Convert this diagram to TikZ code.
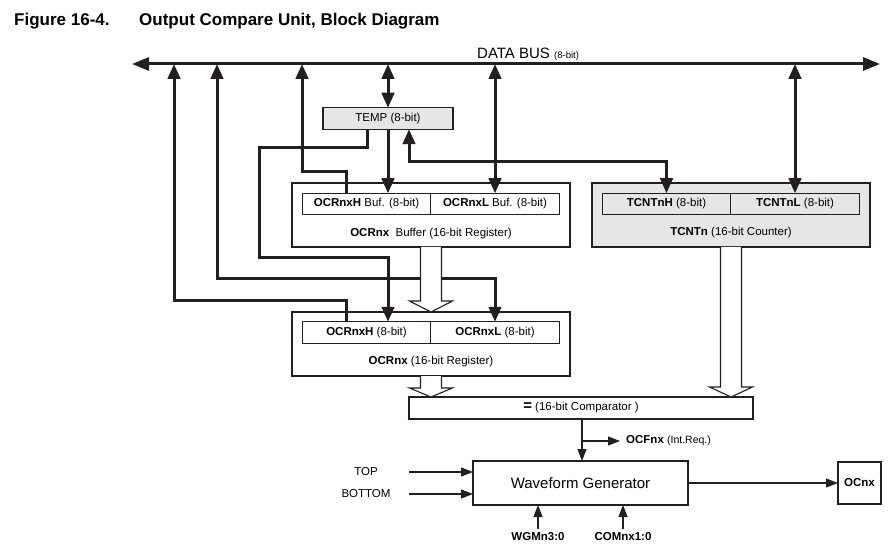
\documentclass[tikz,border=0pt]{standalone}
\usepackage{fontspec}
\setmainfont{Liberation Sans}
\usetikzlibrary{arrows.meta,positioning,calc}
\definecolor{Ink}{HTML}{231F20}
\definecolor{Shade}{HTML}{E6E6E6}
\tikzset{
  title/.style={font=\bfseries\fontsize{17}{20}\selectfont,inner sep=0pt,anchor=base west},
  frame/.style={draw=Ink,fill=white,line width=1.1pt,inner sep=0pt,outer sep=0pt,minimum width=278pt,minimum height=64pt},
  half/.style={draw=Ink,fill=white,line width=1.1pt,inner sep=0pt,outer sep=0pt,minimum width=128.5pt,minimum height=21.5pt,font=\fontsize{11.5}{13}\selectfont},
  plate/.style={draw=Ink,fill=white,line width=1.1pt,inner sep=0pt,outer sep=0pt,align=center},
  lbl/.style={inner sep=0pt,font=\fontsize{11.5}{13}\selectfont},
  bus/.style={{Triangle[length=17pt,width=13pt]}-{Triangle[length=17pt,width=13pt]},draw=Ink,line width=3pt},
  wire/.style={-{Triangle[length=15pt,width=12.5pt]},draw=Ink,line width=3pt},
  wires/.style={{Triangle[length=15pt,width=12.5pt]}-{Triangle[length=15pt,width=12.5pt]},draw=Ink,line width=3pt},
  thin/.style={-{Triangle[length=12pt,width=9pt]},draw=Ink,line width=1.2pt},
  hollow/.style={draw=Ink,fill=white,line width=1.1pt,line join=miter}
}
\begin{document}
\begin{tikzpicture}[x=1pt,y=-1pt]
\useasboundingbox (0,0) rectangle (891,553);
\node[title] (figNo) at (14,26) {Figure 16-4.};
\node[title] (figName) at (139,26) {Output Compare Unit, Block Diagram};
\coordinate (busW) at (132,64);
\coordinate (busE) at (880,64);
\node[anchor=base west,inner sep=0pt,font=\fontsize{15}{17}\selectfont] (busLbl) at (477,59) {DATA BUS {\fontsize{9.5}{11}\selectfont(8-bit)}};
\node[plate,fill=Shade,minimum width=130pt,minimum height=21.5pt,font=\fontsize{11.5}{13}\selectfont] (temp) at (388,118.5) {TEMP (8-bit)};
\node[frame] (buf) at (431,215) {};
\node[frame,fill=Shade] (tcnt) at (731,215) {};
\node[frame] (ocr) at (431,344) {};
\node[half] (bufH) at (366.5,204) {\textbf{OCRnxH} Buf. (8-bit)};
\node[half,right=0pt of bufH] (bufL) {\textbf{OCRnxL} Buf. (8-bit)};
\node[lbl] (bufTxt) at (431,234) {\textbf{OCRnx}\ \ Buffer (16-bit Register)};
\node[half,fill=Shade] (tcntH) at (666.5,204) {\textbf{TCNTnH} (8-bit)};
\node[half,fill=Shade,right=0pt of tcntH] (tcntL) {\textbf{TCNTnL} (8-bit)};
\node[lbl] (tcntTxt) at (731,233) {\textbf{TCNTn} (16-bit Counter)};
\node[half] (ocrH) at (366.5,332.5) {\textbf{OCRnxH} (8-bit)};
\node[half,right=0pt of ocrH] (ocrL) {\textbf{OCRnxL} (8-bit)};
\node[lbl] (ocrTxt) at (431,362) {\textbf{OCRnx} (16-bit Register)};
\node[plate,minimum width=344pt,minimum height=22pt,font=\fontsize{11.5}{13}\selectfont] (cmp) at (581,408) {{\bfseries\fontsize{15}{15}\selectfont =} (16-bit Comparator )};
\node[plate,minimum width=215pt,minimum height=44pt,font=\fontsize{15}{17}\selectfont] (wgen) at (580.5,483) {Waveform Generator};
\node[plate,minimum width=43pt,minimum height=42pt,font=\bfseries\fontsize{11.5}{13}\selectfont] (ocnx) at (859.5,483) {OCnx};
\node[lbl,anchor=west] (ocf) at (626,441) {\textbf{OCFnx} {\fontsize{10.5}{12}\selectfont(Int.Req.)}};
\node[lbl] (top) at (366,472) {TOP};
\node[lbl] (bottom) at (366,494) {BOTTOM};
\node[lbl,font=\bfseries\fontsize{11.5}{13}\selectfont] (wgm) at (538,537) {WGMn3:0};
\node[lbl,font=\bfseries\fontsize{11.5}{13}\selectfont] (com) at (623,537) {COMnx1:0};
\coordinate (hOut) at (174,300);
\coordinate (lIn) at (217,279);
\coordinate (bufOut) at (302,172);
\coordinate (tmpOut) at (259,148);
\coordinate (tmpDn) at (259,258);
\coordinate (cntUp) at (409,162);
\coordinate (ocfTap) at (582,441);
\coordinate (topIn) at (409,472);
\coordinate (botIn) at (409,494);
\coordinate (cntHit) at (cmp.north -| tcnt.south);
\draw[bus] (busW) -- (busE);
\draw[wire] ([xshift=-20.5pt]ocrH.north) |- (hOut) -- (hOut |- busW);
\draw[wires] (lIn |- busW) -- (lIn) -| (ocrL.north);
\draw[wire] ([xshift=-20.5pt]bufH.north) |- (bufOut) -- (bufOut |- busW);
\draw[wires] (temp.north |- busW) -- (temp.north);
\draw[wires] (bufL.north |- busW) -- (bufL.north);
\draw[wires] (tcntL.north |- busW) -- (tcntL.north);
\draw[wire] (temp.south) -- (temp.south |- bufH.north);
\draw[wires] ([xshift=21pt]temp.south) |- (cntUp) -| (tcntH.north);
\draw[wire] ([xshift=-21pt]temp.south) |- (tmpOut) -- (tmpDn) -| (ocrH.north -| temp.south);
\draw[hollow] ([xshift=-10.5pt]buf.south) -- ([xshift=-10.5pt,yshift=11pt]ocr.north) -- ([xshift=-21.5pt,yshift=11pt]ocr.north) -- (ocr.north) -- ([xshift=21.5pt,yshift=11pt]ocr.north) -- ([xshift=10.5pt,yshift=11pt]ocr.north) -- ([xshift=10.5pt]buf.south);
\draw[hollow] ([xshift=-10.5pt]ocr.south) -- ([xshift=-10.5pt,yshift=9pt]cmp.north -| ocr.south) -- ([xshift=-21.5pt,yshift=9pt]cmp.north -| ocr.south) -- (cmp.north -| ocr.south) -- ([xshift=21.5pt,yshift=9pt]cmp.north -| ocr.south) -- ([xshift=10.5pt,yshift=9pt]cmp.north -| ocr.south) -- ([xshift=10.5pt]ocr.south);
\draw[hollow] ([xshift=-10.5pt]tcnt.south) -- ([xshift=-10.5pt,yshift=10pt]cntHit) -- ([xshift=-21.5pt,yshift=10pt]cntHit) -- (cntHit) -- ([xshift=21.5pt,yshift=10pt]cntHit) -- ([xshift=10.5pt,yshift=10pt]cntHit) -- ([xshift=10.5pt]tcnt.south);
\draw[thin] (cmp.south -| ocfTap) -- (ocfTap |- wgen.north);
\draw[thin,shorten >=6pt] (ocfTap) -- (ocf.west);
\draw[thin] (topIn) -- (topIn -| wgen.west);
\draw[thin] (botIn) -- (botIn -| wgen.west);
\draw[thin,shorten <=4pt] (wgm.north) -- (wgm.north |- wgen.south);
\draw[thin,shorten <=4pt] (com.north) -- (com.north |- wgen.south);
\draw[thin] (wgen.east) -- (ocnx.west);
\end{tikzpicture}
\end{document}
